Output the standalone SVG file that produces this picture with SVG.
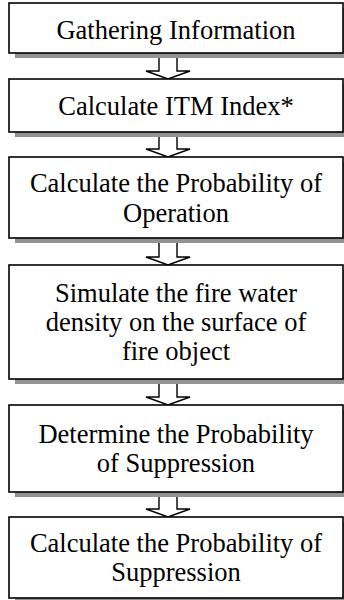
<svg xmlns="http://www.w3.org/2000/svg" width="344" height="600" viewBox="0 0 344 600">
<style>
.box{fill:#fff;stroke:#000;stroke-width:1.6}
.sh{fill:#939393}
.arr{fill:#fff;stroke:#000;stroke-width:1.4;stroke-linejoin:miter}
text{font-family:"Liberation Serif","Times New Roman",serif;font-size:26.5px;fill:#000;text-anchor:middle}
</style>
<rect width="344" height="600" fill="#fff"/>
<g id="connectors">
<polygon class="arr" points="159,53 177,53 177,71 190,71 168,79 146,71 159,71"/>
<polygon class="arr" points="159,132 177,132 177,149 190,149 168,157 146,149 159,149"/>
<polygon class="arr" points="159,238 177,238 177,257 190,257 168,265 146,257 159,257"/>
<polygon class="arr" points="159,379 177,379 177,397 190,397 168,405 146,397 159,397"/>
<polygon class="arr" points="159,492 177,492 177,509 190,509 168,517 146,509 159,509"/>
</g>
<g id="n1">
<rect class="sh" x="15" y="8" width="334" height="50"/>
<rect class="box" x="9" y="3" width="334" height="50"/>
<text x="176" y="39">Gathering Information</text>
</g>
<g id="n2">
<rect class="sh" x="15" y="84" width="334" height="53"/>
<rect class="box" x="9" y="79" width="334" height="53"/>
<text x="176" y="115">Calculate ITM Index*</text>
</g>
<g id="n3">
<rect class="sh" x="15" y="162" width="334" height="81"/>
<rect class="box" x="9" y="157" width="334" height="81"/>
<text x="176" y="192">Calculate the Probability of</text>
<text x="176" y="222">Operation</text>
</g>
<g id="n4">
<rect class="sh" x="15" y="270" width="334" height="114"/>
<rect class="box" x="9" y="265" width="334" height="114"/>
<text x="176" y="302">Simulate the fire water</text>
<text x="176" y="331">density on the surface of</text>
<text x="176" y="360">fire object</text>
</g>
<g id="n5">
<rect class="sh" x="15" y="410" width="334" height="87"/>
<rect class="box" x="9" y="405" width="334" height="87"/>
<text x="176" y="443">Determine the Probability</text>
<text x="176" y="472">of Suppression</text>
</g>
<g id="n6">
<rect class="sh" x="15" y="522" width="334" height="81"/>
<rect class="box" x="9" y="517" width="334" height="81"/>
<text x="176" y="552">Calculate the Probability of</text>
<text x="176" y="581">Suppression</text>
</g>
</svg>
